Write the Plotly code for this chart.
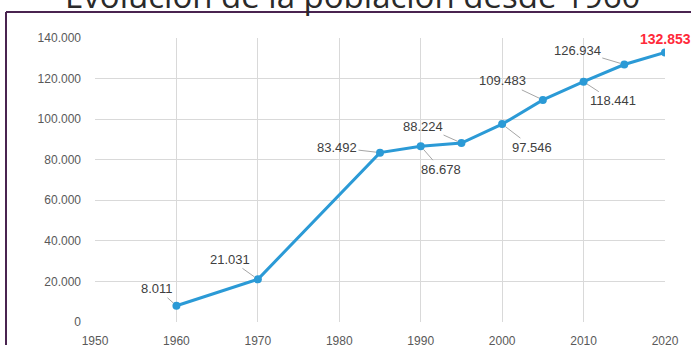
import plotly.graph_objects as go

years = [1960, 1970, 1985, 1990, 1995, 2000, 2005, 2010, 2015, 2020]
population = [8011, 21031, 83492, 86678, 88224, 97546, 109483, 118441, 126934, 132853]
title_text = "Evolución de la población desde 1960"

# label offsets (pixels) from point to label centre
label_ax = [-19, -28, -43, 20, -38, 30, -40, 29, -47, 0]
label_ay = [-17, -20, -5, 23, -17, 23, -19, 19, -14, 0]

def fmt(v):
    return f"{v:,}".replace(",", ".")

L, R, T, B = 95, 26, 38, 23
W, H = 691, 345
pw, ph = W - L - R, H - T - B

def px_x(px):
    return (px - L) / pw

def px_y(py):
    return (H - B - py) / ph

fig = go.Figure()
fig.add_trace(go.Scatter(
    x=years, y=population, mode="lines+markers",
    line=dict(color="#2b9ad6", width=3),
    marker=dict(color="#2b9ad6", size=8),
    hoverinfo="skip", showlegend=False,
))

annotations = []
for i, (x, y) in enumerate(zip(years, population)):
    if i == len(years) - 1:
        annotations.append(dict(
            x=x, y=y, text="<b>" + fmt(y) + "</b>", showarrow=False, yshift=14,
            font=dict(family="Liberation Sans, Arial", size=14, color="#ff2a3a"),
        ))
    else:
        annotations.append(dict(
            x=x, y=y, text=fmt(y), showarrow=True,
            ax=label_ax[i], ay=label_ay[i],
            arrowhead=0, arrowwidth=1, arrowcolor="#a6a6a6", standoff=4,
            font=dict(family="Liberation Sans, Arial", size=13, color="#404040"),
        ))

annotations.append(dict(
    x=px_x(353), y=px_y(-5), xref="paper", yref="paper",
    text=title_text, showarrow=False, xanchor="center", yanchor="middle",
    font=dict(family="Open Sans", size=33, color="#2a2a2a"),
))

frame = "#4a2450"
shapes = [
    dict(type="line", xref="paper", yref="paper",
         x0=px_x(6), x1=px_x(700), y0=px_y(12), y1=px_y(12),
         line=dict(color=frame, width=2)),
    dict(type="line", xref="paper", yref="paper",
         x0=px_x(6), x1=px_x(6), y0=px_y(12), y1=px_y(360),
         line=dict(color=frame, width=2)),
]

fig.update_layout(
    width=W, height=H,
    margin=dict(l=L, r=R, t=T, b=B, autoexpand=False),
    paper_bgcolor="white", plot_bgcolor="white",
    separators=",.",
    annotations=annotations, shapes=shapes,
    xaxis=dict(range=[1950, 2020], dtick=10, tick0=1950, showgrid=True,
               gridcolor="#d9d9d9", gridwidth=1, zeroline=False, showline=False,
               tickfont=dict(family="Liberation Sans, Arial", size=12, color="#595959"),
               ticklabelstandoff=10, automargin=False, fixedrange=True),
    yaxis=dict(range=[0, 140000], dtick=20000, tickformat=",d", showgrid=True,
               gridcolor="#d9d9d9", gridwidth=1, zeroline=False, showline=False,
               tickfont=dict(family="Liberation Sans, Arial", size=12, color="#595959"),
               ticklabelstandoff=13, automargin=False, fixedrange=True),
)

fig.write_html("out.html")
